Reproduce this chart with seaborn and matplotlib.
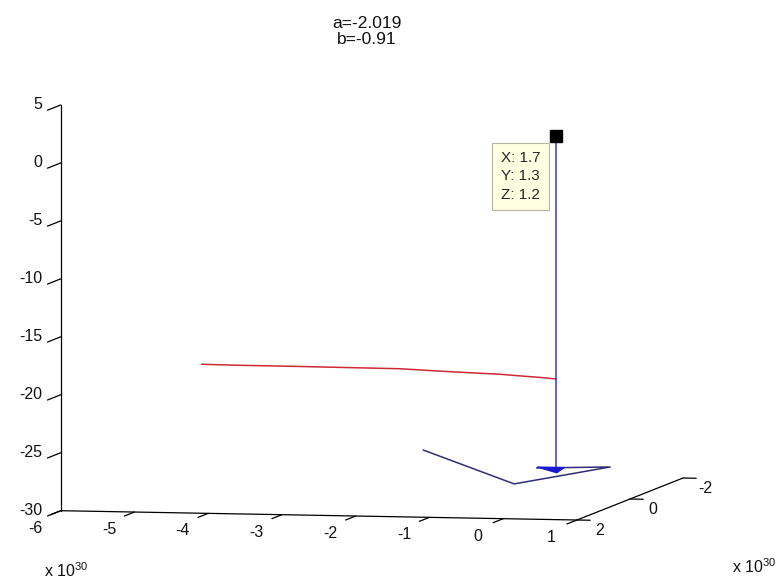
import numpy as np
import matplotlib
matplotlib.use("Agg")
import matplotlib.pyplot as plt
import seaborn as sns
from mpl_toolkits.mplot3d import proj3d
from mpl_toolkits.mplot3d.art3d import Poly3DCollection

# ---------------- data ----------------
title_a = "-2.019"
title_b = "-0.91"
axis_exponent = 30                      # x and y axes are shown in units of 10^30

x_limits = [-6, 1]
y_limits = [2, -2]                      # y axis runs reversed
z_limits = [-30, 5]
x_ticks = [-6, -5, -4, -3, -2, -1, 0, 1]
y_ticks = [2, 0, -2]
z_ticks = [5, 0, -5, -10, -15, -20, -25, -30]

# red curve (x, y in units of 10^30)
red_x = [-4.81, -4.34, -3.47, -2.12, -1.51, -1.10, -0.76, -0.49, -0.22, 0.0]
red_y = [0.0, 0.0, 0.0, 0.0, 0.0, 0.0, 0.0, 0.0, 0.0, 0.0]
red_z = [-19.04, -19.07, -19.08, -19.12, -19.28, -19.37, -19.44, -19.55, -19.65, -19.76]

# data tip point (true values) and the blue stem hanging from it
tip_x, tip_y, tip_z = 1.7, 1.3, 1.2
stem_bottom_z = -27.8

# blue arrow head at the stem bottom (units of 10^30 for x, y)
head_x = [-0.26, 0.0, 0.10]
head_y = [0.0, 0.0, 0.0]
head_z = [-27.35, -27.8, -27.35]

# blue polyline near the floor (units of 10^30 for x, y)
floor_x = [-2.30, -0.01, 0.68, -0.24]
floor_y = [-1.38, 1.56, -0.14, 0.07]
floor_z = [-27.4, -27.4, -27.4, -27.4]

# ---------------- style ----------------
sns.set_style("white")
plt.rcParams["font.family"] = ["Liberation Sans", "DejaVu Sans"]
plt.rcParams["mathtext.fontset"] = "custom"
plt.rcParams["mathtext.rm"] = "Liberation Sans"

W, H = 780, 583
TICK_FS = 11.5
TXT = "#111111"
AX_COLOR = "black"
RED = "#cc2a36"
STEM = "#3a3aa8"
FLOOR = "#2d2d78"
HEAD = "#1818d0"

fig = plt.figure(figsize=(W / 100, H / 100), dpi=100)
ax = fig.add_axes([0.1, 0.1, 0.8, 0.8], projection="3d", proj_type="ortho",
                  computed_zorder=False)
ax.view_init(elev=4.845, azim=-77.96)
ax.set_box_aspect((527.9, 508.2, 407.2))
ax.set_xlim(*x_limits)
ax.set_ylim(*y_limits)
ax.set_zlim(*z_limits)
ax.set_axis_off()

scale = 10.0 ** axis_exponent
sx, sy = tip_x / scale, tip_y / scale

# axis lines
x0, x1 = x_limits
yf, yb = y_limits
zb, zt = z_limits
ax.plot([x0, x1], [yf, yf], [zb, zb], color=AX_COLOR, lw=0.9, zorder=1)
ax.plot([x1, x1], [yf, yb], [zb, zb], color=AX_COLOR, lw=0.9, zorder=1)
ax.plot([x0, x0], [yf, yf], [zb, zt], color=AX_COLOR, lw=0.9, zorder=1)

# tick marks
for t in x_ticks:
    ax.plot([t, t], [yf, yf + 0.38], [zb, zb], color=AX_COLOR, lw=0.9, zorder=1)
for t in y_ticks:
    ax.plot([x1, x1 + 0.18], [t, t], [zb, zb], color=AX_COLOR, lw=0.9, zorder=1)
for t in z_ticks:
    ax.plot([x0, x0], [yf, yf + 0.5], [t, t], color=AX_COLOR, lw=0.9, zorder=1)

# data
ax.plot(red_x, red_y, red_z, color=RED, lw=1.1, zorder=2)
ax.plot([sx, sx], [sy, sy], [tip_z, stem_bottom_z], color=STEM, lw=1.1, zorder=3)
ax.plot(floor_x, floor_y, floor_z, color=FLOOR, lw=1.1, zorder=3)
head = Poly3DCollection([list(zip(head_x, head_y, head_z))], facecolor=HEAD,
                        edgecolor=HEAD, linewidths=1.0, zorder=4)
ax.add_collection3d(head)
ax.plot([sx], [sy], [tip_z], marker="s", markersize=8, color="black",
        linestyle="none", zorder=6)

# ---------------- place the 3-D box like the reference ----------------
corner_pts = np.array([[x0, yf, zb], [x1, yf, zb], [x1, yb, zb], [x0, yf, zt]], float)
corner_px = np.array([[60.7, 510.7], [577.0, 520.0], [683.0, 478.0], [60.7, 105.0]])
target = np.column_stack([corner_px[:, 0], H - corner_px[:, 1]])
for _ in range(3):
    fig.canvas.draw()
    px, py, _ = proj3d.proj_transform(corner_pts[:, 0], corner_pts[:, 1],
                                      corner_pts[:, 2], ax.get_proj())
    P = ax.transData.transform(np.column_stack([px, py]))
    pm, tm = P.mean(0), target.mean(0)
    s = ((target - tm) * (P - pm)).sum() / ((P - pm) ** 2).sum()
    o = tm - s * pm
    bb = ax.get_position()
    bx, by, bw, bh = bb.x0 * W, bb.y0 * H, bb.width * W, bb.height * H
    ax.set_position([(o[0] + s * bx) / W, (o[1] + s * by) / H, s * bw / W, s * bh / H])
fig.canvas.draw()


def proj2d(x, y, z):
    u, v, _ = proj3d.proj_transform(np.array([x], float), np.array([y], float),
                                    np.array([z], float), ax.get_proj())
    return u[0], v[0]


def label(x, y, z, text, dx, dy, ha="center", va="center", **kw):
    """Text anchored at a 3-D point, shifted dx right / dy down in pixels."""
    ax.annotate(text, xy=proj2d(x, y, z), xycoords="data", xytext=(dx, -dy),
                textcoords="offset pixels", ha=ha, va=va, annotation_clip=False, **kw)


# tick labels
for t in x_ticks:
    label(t, yf, zb, f"{t:g}", -25.5, 17.5, fontsize=TICK_FS, color=TXT)
for t in y_ticks:
    label(x1, t, zb, f"{t:g}", 22.5, 10.5, fontsize=TICK_FS, color=TXT)
for t in z_ticks:
    label(x0, yf, t, f"{t:g}", -18.5, 0.0, ha="right", fontsize=TICK_FS, color=TXT)

# data tip box
label(sx, sy, tip_z, f"X: {tip_x:g}\nY: {tip_y:g}\nZ: {tip_z:g}", -16.0, 15.0,
      ha="right", va="top", fontsize=11, linespacing=1.4, multialignment="left",
      zorder=7, bbox=dict(boxstyle="square,pad=0.55", facecolor="#ffffe1",
                          edgecolor="#b4b4a0", linewidth=0.8))

# title and exponent labels
fig.text(367 / W, 1 - 31.5 / H, f"a={title_a}\nb={title_b}", ha="center", va="center",
         fontsize=12.5, linespacing=1.15, color=TXT)
fig.text(66 / W, 1 - 571 / H, rf"x 10$^{{{axis_exponent}}}$", ha="center", va="center",
         fontsize=TICK_FS, color=TXT)
fig.text(754 / W, 1 - 567 / H, rf"x 10$^{{{axis_exponent}}}$", ha="center", va="center",
         fontsize=TICK_FS, color=TXT)

fig.savefig("out.png", dpi=100)
